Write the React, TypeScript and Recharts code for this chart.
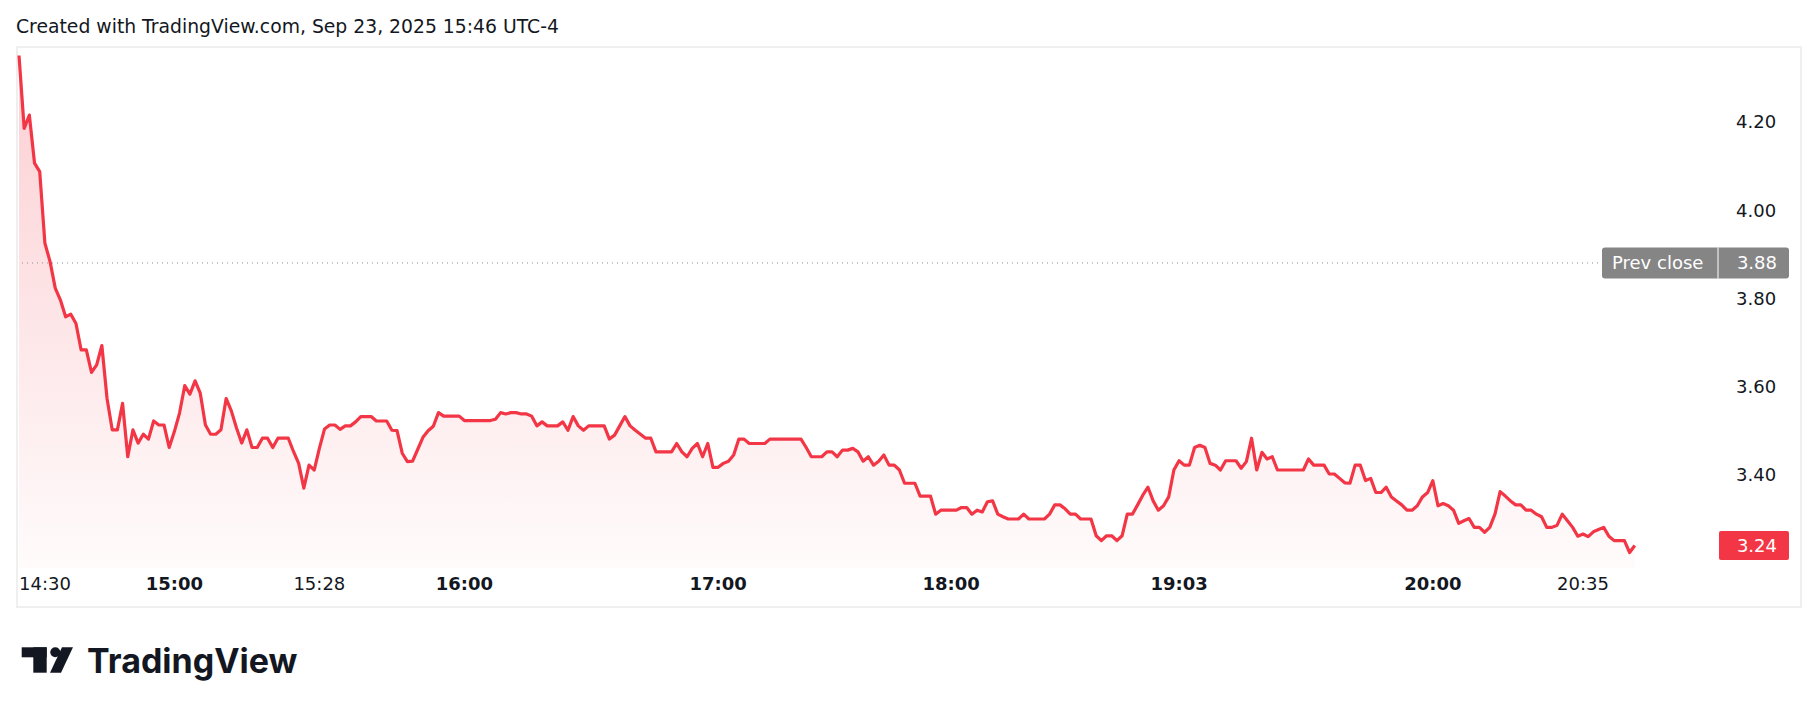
import React from "react";
import {
  ComposedChart,
  Area,
  XAxis,
  YAxis,
  ReferenceLine,
} from "recharts";

// 1-minute closes (bar index based, gaps skipped)
const pricesPart1 = [
  4.35, 4.185, 4.215, 4.106, 4.087, 3.925, 3.883, 3.823, 3.796, 3.758, 3.764,
  3.743, 3.683, 3.683, 3.632, 3.649, 3.693, 3.573, 3.502, 3.502, 3.562, 3.441,
  3.502, 3.472, 3.492, 3.481, 3.522, 3.513, 3.513, 3.462, 3.498, 3.54, 3.602,
  3.583, 3.613, 3.585, 3.513, 3.492, 3.492, 3.502, 3.573, 3.545, 3.506, 3.472,
  3.502, 3.462, 3.462, 3.483, 3.483, 3.462, 3.483, 3.483, 3.483, 3.453, 3.426,
  3.37, 3.422, 3.411, 3.46, 3.504, 3.513,
];
const pricesPart2 = [
  3.513, 3.503, 3.511, 3.511, 3.52, 3.532, 3.532, 3.532, 3.522, 3.522, 3.522,
  3.501, 3.5, 3.449, 3.43, 3.431, 3.458, 3.485, 3.5, 3.51, 3.541, 3.533, 3.533,
  3.533, 3.533, 3.523, 3.523, 3.523, 3.523, 3.523, 3.523, 3.526, 3.541, 3.538,
  3.541, 3.541, 3.538, 3.538, 3.533, 3.511, 3.52, 3.511, 3.511, 3.511, 3.52,
  3.501, 3.532, 3.511, 3.501, 3.511, 3.511, 3.511, 3.511, 3.481, 3.49, 3.511,
  3.532, 3.511, 3.501, 3.492, 3.483, 3.483, 3.452, 3.452,
];
const pricesPart3 = [
  3.452, 3.452, 3.471, 3.452, 3.441, 3.46, 3.471, 3.441, 3.471, 3.417, 3.417,
  3.426, 3.431, 3.445, 3.481, 3.481, 3.471, 3.471, 3.471, 3.471, 3.481, 3.481,
  3.481, 3.481, 3.481, 3.481, 3.481, 3.462, 3.441, 3.441, 3.441, 3.452, 3.452,
  3.441, 3.456, 3.456, 3.46, 3.452, 3.431, 3.441, 3.422, 3.431, 3.445, 3.422,
  3.422, 3.411, 3.381, 3.381, 3.381, 3.352, 3.352, 3.352, 3.311, 3.32, 3.32,
  3.32, 3.32, 3.326, 3.326, 3.311, 3.32, 3.316, 3.339,
];
const pricesPart4 = [
  3.341, 3.311, 3.305, 3.3, 3.3, 3.3, 3.311, 3.3, 3.3, 3.3, 3.3, 3.311, 3.332,
  3.332, 3.323, 3.311, 3.311, 3.3, 3.3, 3.3, 3.262, 3.251, 3.262, 3.262, 3.251,
  3.262, 3.311, 3.311, 3.332, 3.354, 3.372, 3.341, 3.32, 3.33, 3.35, 3.411,
  3.432, 3.422, 3.422, 3.462, 3.467, 3.462, 3.426, 3.422, 3.411, 3.432, 3.432,
  3.432, 3.415, 3.43, 3.483, 3.411, 3.451, 3.436, 3.441, 3.411, 3.411, 3.411,
  3.411, 3.411, 3.411, 3.436, 3.422, 3.422,
];
const pricesPart5 = [
  3.422, 3.402, 3.402, 3.392, 3.382, 3.381, 3.422, 3.422, 3.387, 3.392, 3.36,
  3.36, 3.372, 3.35, 3.341, 3.332, 3.32, 3.32, 3.33, 3.35, 3.36, 3.387, 3.33,
  3.335, 3.33, 3.32, 3.29, 3.296, 3.301, 3.281, 3.281, 3.27, 3.281, 3.311,
  3.362, 3.352, 3.341, 3.332, 3.332, 3.32, 3.32, 3.311, 3.305, 3.281, 3.281,
  3.286, 3.311, 3.296, 3.281, 3.261, 3.266, 3.26, 3.271, 3.276, 3.281, 3.261,
  3.251, 3.251, 3.251, 3.224, 3.24,
];

const tickIdx = [0, 30, 58, 86, 135, 180, 224, 273, 302];
const tickText = ["14:30", "15:00", "15:28", "16:00", "17:00", "18:00", "19:03", "20:00", "20:35"];
const majorTicks = ["15:00", "16:00", "17:00", "18:00", "19:03", "20:00"];

const priceTicks = [3.4, 3.6, 3.8, 4.0, 4.2];
const prevClose = 3.88;

const prices = [
  ...pricesPart1,
  ...pricesPart2,
  ...pricesPart3,
  ...pricesPart4,
  ...pricesPart5,
];
const data = prices.map((v, i) => ({ i, v }));
const lastPrice = prices[prices.length - 1];

const FONT = '"DejaVu Sans", Verdana, sans-serif';
const RED = "#F23645";
const INK = "#131722";

function TimeTick(props: any) {
  const { x, y, payload } = props;
  const label = tickText[tickIdx.indexOf(payload.value)];
  return (
    <text
      x={x}
      y={y + 15}
      textAnchor={payload.value === 0 ? "start" : "middle"}
      dominantBaseline="central"
      fontFamily={FONT}
      fontSize={18}
      fontWeight={majorTicks.includes(label) ? 700 : 400}
      fill={INK}
    >
      {label}
    </text>
  );
}

function PriceTick(props: any) {
  const { x, y, payload } = props;
  return (
    <text
      x={x}
      y={y}
      textAnchor="start"
      dominantBaseline="central"
      fontFamily={FONT}
      fontSize={18}
      fill={INK}
    >
      {Number(payload.value).toFixed(2)}
    </text>
  );
}

function PrevCloseLabel(props: any) {
  const { viewBox } = props;
  const right = viewBox.x + viewBox.width;
  const cy = viewBox.y;
  return (
    <g>
      <rect x={right - 126} y={cy - 15.5} width={187} height={31} rx={3} fill="#858585" />
      <line x1={right - 10} x2={right - 10} y1={cy - 15.5} y2={cy + 15.5} stroke="#fff" />
      <text x={right - 116} y={cy} dominantBaseline="central" fontFamily={FONT} fontSize={18} fill="#fff">
        Prev close
      </text>
      <text x={right + 49} y={cy} textAnchor="end" dominantBaseline="central" fontFamily={FONT} fontSize={18} fill="#fff">
        {prevClose.toFixed(2)}
      </text>
    </g>
  );
}

function LastPriceLabel(props: any) {
  const { viewBox } = props;
  const right = viewBox.x + viewBox.width;
  const cy = viewBox.y;
  return (
    <g>
      <rect x={right - 9} y={cy - 14.5} width={70} height={29} rx={2} fill={RED} />
      <text x={right + 49} y={cy} textAnchor="end" dominantBaseline="central" fontFamily={FONT} fontSize={18} fill="#fff">
        {lastPrice.toFixed(2)}
      </text>
    </g>
  );
}

export default function App() {
  return (
    <div
      style={{
        position: "fixed",
        left: 0,
        top: 0,
        width: 1818,
        height: 713,
        background: "#fff",
        overflow: "hidden",
      }}
    >
      <div
        style={{
          position: "absolute",
          left: 16,
          top: 16,
          fontFamily: FONT,
          fontSize: 18.8,
          lineHeight: "22px",
          color: INK,
        }}
      >
        Created with TradingView.com, Sep 23, 2025 15:46 UTC-4
      </div>

      <div
        style={{
          position: "absolute",
          left: 16,
          top: 46,
          width: 1786,
          height: 562,
          border: "2px solid #efefef",
          boxSizing: "border-box",
        }}
      />

      <div style={{ position: "absolute", left: 0, top: 0 }}>
        <ComposedChart
          width={1818}
          height={713}
          data={data}
          margin={{ top: 48, right: 18, bottom: 105, left: 19 }}
        >
          <defs>
            <linearGradient id="redFill" x1="0" y1="0" x2="0" y2="1">
              <stop offset="0%" stopColor={RED} stopOpacity={0.24} />
              <stop offset="100%" stopColor={RED} stopOpacity={0.02} />
            </linearGradient>
          </defs>
          <XAxis
            dataKey="i"
            type="number"
            domain={[0, 330]}
            ticks={tickIdx}
            interval={0}
            tick={<TimeTick />}
            tickSize={0}
            tickMargin={0}
            axisLine={false}
            tickLine={false}
            height={40}
          />
          <YAxis
            orientation="right"
            type="number"
            domain={[3.189, 4.367]}
            ticks={priceTicks}
            tick={<PriceTick />}
            tickSize={0}
            tickMargin={8}
            axisLine={false}
            tickLine={false}
            width={72}
            allowDataOverflow
          />
          <ReferenceLine
            y={prevClose}
            stroke="#8a8d96"
            strokeDasharray="1 4"
            label={<PrevCloseLabel />}
          />
          <Area
            type="linear"
            dataKey="v"
            stroke={RED}
            strokeWidth={3.2}
            strokeLinejoin="round"
            fill="url(#redFill)"
            fillOpacity={1}
            dot={false}
            activeDot={false}
            isAnimationActive={false}
          />
          <ReferenceLine y={lastPrice} stroke="none" label={<LastPriceLabel />} />
        </ComposedChart>
      </div>

      <svg
        width={400}
        height={93}
        style={{ position: "absolute", left: 0, top: 620 }}
      >
        <rect x={21.7} y={27.3} width={25} height={10} fill={INK} />
        <rect x={33.3} y={27.3} width={13.4} height={25.4} fill={INK} />
        <circle cx={55.3} cy={32.3} r={5} fill={INK} />
        <polygon points="62,27.3 73,27.3 61,52.7 50,52.7" fill={INK} />
        <text
          x={87}
          y={53}
          fontFamily="Inter, sans-serif"
          fontSize={34}
          fontWeight={700}
          fill={INK}
        >
          TradingView
        </text>
      </svg>
    </div>
  );
}
